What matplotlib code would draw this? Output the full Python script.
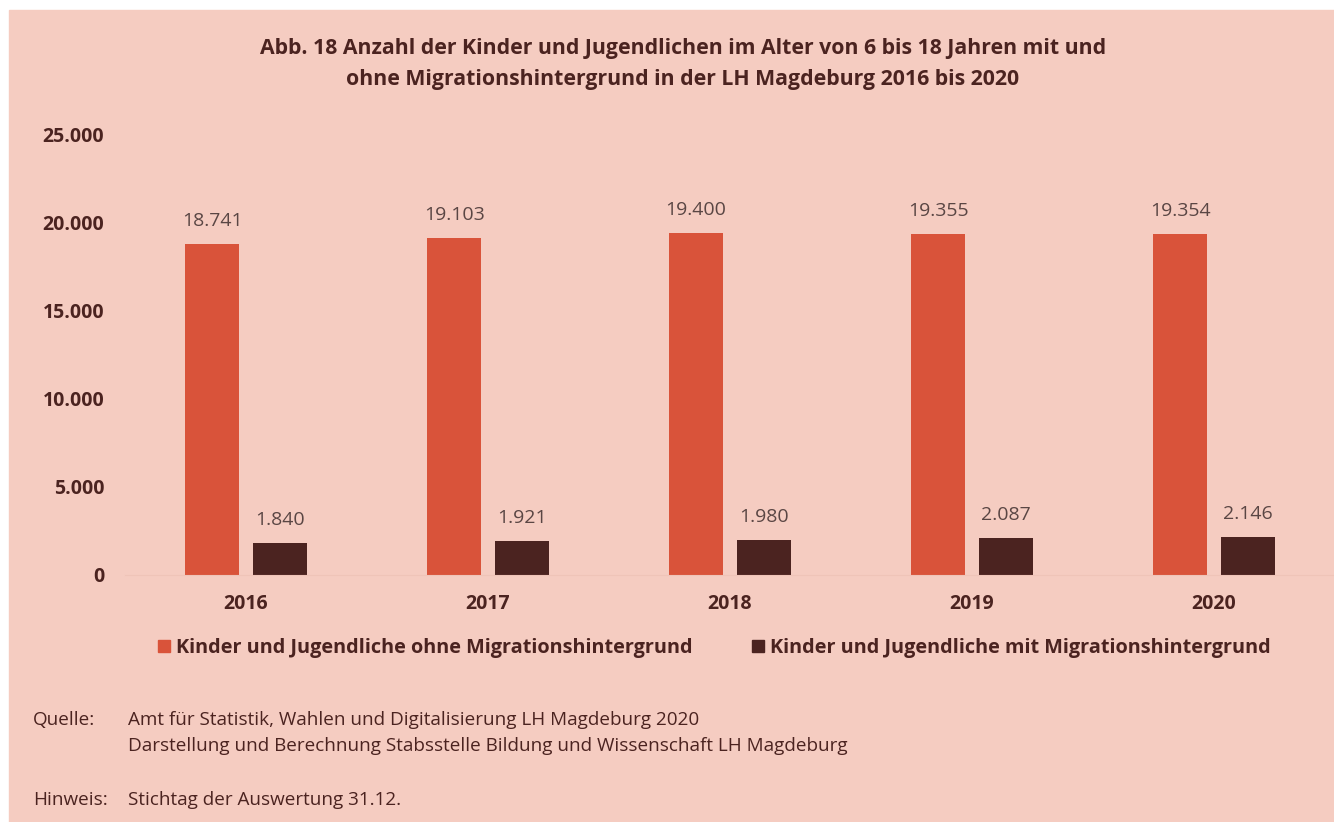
import matplotlib.pyplot as plt
import matplotlib.patches as mpatches
import numpy as np

years = ['2016', '2017', '2018', '2019', '2020']
ohne = [18741, 19103, 19400, 19355, 19354]
mit = [1840, 1921, 1980, 2087, 2146]
yticks = [0, 5000, 10000, 15000, 20000, 25000]
ytick_labels = ['0', '5.000', '10.000', '15.000', '20.000', '25.000']
lbl_ohne = 'Kinder und Jugendliche ohne Migrationshintergrund'
lbl_mit = 'Kinder und Jugendliche mit Migrationshintergrund'

bg = '#F5CCC1'
c_ohne = '#D9533A'
c_mit = '#4B2320'
txt = '#4B2320'

def fmt(v):
    return f'{v:,}'.replace(',', '.')

plt.rcParams['font.family'] = ['Open Sans', 'DejaVu Sans']

W, H = 1334, 822
fig = plt.figure(figsize=(W / 100, H / 100), dpi=100)
fig.patch.set_facecolor('white')
# pink panel
fig.patches.append(mpatches.Rectangle((9 / W, 0), 1 - 9 / W, 1 - 10 / H,
                                      transform=fig.transFigure, color=bg, zorder=-10))

ax = fig.add_axes([125 / W, 1 - 575 / H, 1210 / W, 441 / H])
ax.set_facecolor('none')
x = np.arange(len(years))
w = 0.223
ax.bar(x - 0.14, ohne, w, color=c_ohne)
ax.bar(x + 0.142, mit, w, color=c_mit)
for i in range(len(years)):
    ax.text(x[i] - 0.14, ohne[i] + 1300, fmt(ohne[i]), ha='center', va='center',
            fontsize=14, color='#5a4644')
    ax.text(x[i] + 0.142, mit[i] + 1300, fmt(mit[i]), ha='center', va='center',
            fontsize=14, color='#5a4644')

ax.set_xlim(-0.5, 4.5)
ax.set_ylim(0, 25000)
ax.set_yticks(yticks)
ax.set_yticklabels(ytick_labels, fontsize=14, fontweight='bold', color=txt)
ax.set_xticks(x)
ax.set_xticklabels(years, fontsize=14, fontweight='bold', color=txt)
ax.tick_params(length=0, axis='y', pad=15)
ax.tick_params(length=0, axis='x', pad=14)
for s in ['top', 'right', 'left']:
    ax.spines[s].set_visible(False)
ax.spines['bottom'].set_color('#efc4b8')

fig.text(683 / W, 1 - 64 / H,
         'Abb. 18 Anzahl der Kinder und Jugendlichen im Alter von 6 bis 18 Jahren mit und\n'
         'ohne Migrationshintergrund in der LH Magdeburg 2016 bis 2020',
         ha='center', va='center', fontsize=15.3, fontweight='bold', color=txt,
         linespacing=1.6)

handles = [mpatches.Patch(color=c_ohne, label=lbl_ohne),
           mpatches.Patch(color=c_mit, label=lbl_mit)]
fig.legend(handles=handles, loc='center', bbox_to_anchor=(714 / W, 1 - 648 / H),
           ncol=2, frameon=False, handlelength=0.6, handleheight=0.6,
           handletextpad=0.3, columnspacing=3.0, labelcolor=txt,
           prop={'weight': 'bold', 'size': 14.3})

fs = 13.6
fig.text(33 / W, 1 - 720 / H, 'Quelle:', fontsize=fs, color=txt, va='center')
fig.text(128 / W, 1 - 720 / H, 'Amt für Statistik, Wahlen und Digitalisierung LH Magdeburg 2020',
         fontsize=fs, color=txt, va='center')
fig.text(128 / W, 1 - 746 / H,
         'Darstellung und Berechnung Stabsstelle Bildung und Wissenschaft LH Magdeburg',
         fontsize=fs, color=txt, va='center')
fig.text(33 / W, 1 - 800 / H, 'Hinweis:', fontsize=fs, color=txt, va='center')
fig.text(128 / W, 1 - 800 / H, 'Stichtag der Auswertung 31.12.', fontsize=fs, color=txt,
         va='center')

fig.savefig('out.png', dpi=100, facecolor=fig.get_facecolor())
